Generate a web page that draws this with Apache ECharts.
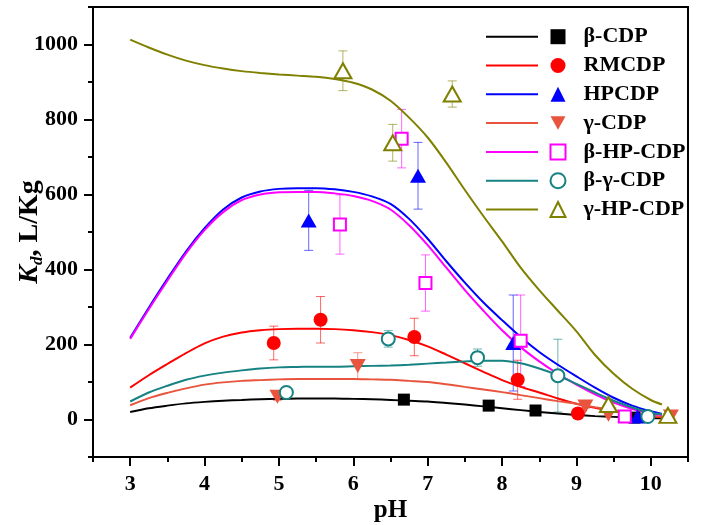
<!DOCTYPE html>
<html>
<head>
<meta charset="utf-8">
<script src="https://cdn.jsdelivr.net/npm/echarts@6/dist/echarts.min.js"></script>
<style>html,body{margin:0;padding:0;background:#fff;}#c{width:706px;height:525px;}</style>
</head>
<body>
<div id="c"></div>
<script>
// ---- data ----
const names = ['β-CDP', 'RMCDP', 'HPCDP', 'γ-CDP', 'β-HP-CDP', 'β-γ-CDP', 'γ-HP-CDP'];
const xTicks = [3, 4, 5, 6, 7, 8, 9, 10];
const xMinorTicks = [2.5, 3.5, 4.5, 5.5, 6.5, 7.5, 8.5, 9.5, 10.5];
const yTicks = [0, 200, 400, 600, 800, 1000];
const yMinorTicks = [-100, 100, 300, 500, 700, 900, 1100];

// fitted curves
const fitPH        = [3, 3.25, 3.5, 3.75, 4, 4.25, 4.5, 4.75, 5, 5.25, 5.5, 5.75, 6, 6.25, 6.5, 6.75, 7, 7.25, 7.5, 7.75, 8, 8.25, 8.5, 8.75, 9, 9.25, 9.5, 9.75, 10, 10.15];
const fitBetaCDP   = [20, 30, 37, 43, 47, 50, 52, 54, 55, 56, 56, 56, 55, 54, 52, 50, 48, 44, 40, 35, 30, 25, 20, 16, 12, 9, 7, 5, 4, 3];
const fitRMCDP     = [85, 118, 148, 177, 203, 221, 232, 238, 241, 242, 242, 241, 238, 233, 225, 212, 195, 173, 150, 127, 105, 87, 72, 56, 42, 31, 22, 14, 8, 6];
const fitHPCDP     = [218, 298, 375, 448, 510, 560, 592, 608, 615, 617, 617, 614, 607, 595, 575, 535, 482, 422, 365, 312, 265, 220, 180, 146, 115, 85, 58, 37, 22, 15];
const fitGammaCDP  = [38, 57, 71, 83, 93, 99, 103, 105, 107, 108, 108, 108, 108, 107, 106, 103, 100, 94, 87, 80, 73, 65, 57, 49, 42, 33, 25, 17, 10, 8];
const fitBetaHP    = [215, 294, 370, 443, 505, 553, 585, 600, 606, 607, 607, 603, 596, 583, 560, 518, 465, 405, 345, 290, 238, 193, 155, 122, 93, 67, 45, 28, 16, 12];
const fitBetaGamma = [48, 72, 90, 106, 117, 125, 131, 136, 139, 140, 141, 141, 142, 143, 144, 146, 149, 152, 155, 157, 157, 150, 136, 118, 95, 72, 50, 32, 18, 14];
const fitGammaHP   = [1013, 992, 973, 957, 945, 936, 929, 924, 920, 917, 914, 908, 898, 880, 850, 805, 752, 685, 612, 542, 475, 405, 345, 290, 235, 172, 122, 82, 52, 40];

// measured points (pH, Kd, error)
const ptBetaCDPx = [6.68, 7.82, 8.45, 9.78];
const ptBetaCDPy = [53, 37, 24, 5];
const ptBetaCDPe = [3, 3, 3, 2];
const ptRMCDPx = [4.93, 5.56, 6.82, 8.21, 9.02];
const ptRMCDPy = [204, 266, 220, 106, 16];
const ptRMCDPe = [45, 62, 50, 52, 5];
const ptHPCDPx = [5.40, 6.87, 8.15, 9.82];
const ptHPCDPy = [531, 650, 204, 8];
const ptHPCDPe = [80, 89, 128, 5];
const ptGammaCDPx = [4.98, 6.06, 9.12, 9.43, 10.27];
const ptGammaCDPy = [61, 143, 35, 13, 8];
const ptGammaCDPe = [10, 35, 5, 5, 5];
const ptBetaHPx = [5.82, 6.65, 6.97, 8.25, 9.65];
const ptBetaHPy = [520, 749, 364, 210, 8];
const ptBetaHPe = [79, 78, 75, 122, 5];
const ptBetaGammax = [5.10, 6.47, 7.67, 8.75, 9.96];
const ptBetaGammay = [72, 215, 165, 117, 8];
const ptBetaGammae = [5, 22, 23, 97, 5];
const ptGammaHPx = [5.86, 6.53, 7.33, 9.43, 10.23];
const ptGammaHPy = [930, 738, 868, 40, 11];
const ptGammaHPe = [53, 49, 35, 15, 5];

// ---- styling ----
const colors = ['#000000', '#ff0000', '#0000ff', '#e8543e', '#ff00ff', '#168282', '#808000'];
const fits = [fitBetaCDP, fitRMCDP, fitHPCDP, fitGammaCDP, fitBetaHP, fitBetaGamma, fitGammaHP];
const pts = [
  [ptBetaCDPx, ptBetaCDPy, ptBetaCDPe],
  [ptRMCDPx, ptRMCDPy, ptRMCDPe],
  [ptHPCDPx, ptHPCDPy, ptHPCDPe],
  [ptGammaCDPx, ptGammaCDPy, ptGammaCDPe],
  [ptBetaHPx, ptBetaHPy, ptBetaHPe],
  [ptBetaGammax, ptBetaGammay, ptBetaGammae],
  [ptGammaHPx, ptGammaHPy, ptGammaHPe]
];
const downTri = 'path://M0,0 L10,0 L5,9 Z';
const symbols = ['rect', 'circle', 'triangle', downTri, 'rect', 'circle', 'triangle'];
const symSizes = [12, 14, [16, 14], [16, 14], 12, 13, [17, 15]];
const hollow = [false, false, false, false, true, true, true];

const FONT = 'Liberation Serif';
const series = [];
// error bars
pts.forEach((p, i) => {
  series.push({
    type: 'custom', name: 'err' + i, z: 2, silent: true,
    data: p[0].map((x, k) => [x, p[1][k], p[2][k]]),
    renderItem: function (params, api) {
      const x = api.value(0), y = api.value(1), e = api.value(2);
      const t = api.coord([x, y + e]), b = api.coord([x, y - e]);
      const st = { stroke: colors[i], lineWidth: 1, opacity: 0.6 };
      const cw = 4.5;
      return { type: 'group', children: [
        { type: 'line', shape: { x1: t[0], y1: t[1], x2: b[0], y2: b[1] }, style: st },
        { type: 'line', shape: { x1: t[0] - cw, y1: t[1], x2: t[0] + cw, y2: t[1] }, style: st },
        { type: 'line', shape: { x1: b[0] - cw, y1: b[1], x2: b[0] + cw, y2: b[1] }, style: st }
      ] };
    }
  });
});
// fitted lines
fits.forEach((f, i) => {
  series.push({
    type: 'line', name: 'fit ' + names[i], z: 3, smooth: 0.3, symbol: 'none',
    data: fitPH.map((x, k) => [x, f[k]]),
    lineStyle: { color: colors[i], width: 2 },
    itemStyle: { color: colors[i] }
  });
});
// markers
pts.forEach((p, i) => {
  series.push({
    type: 'scatter', name: names[i], z: 4,
    symbol: symbols[i], symbolSize: symSizes[i],
    data: p[0].map((x, k) => [x, p[1][k]]),
    itemStyle: hollow[i]
      ? { color: '#ffffff', borderColor: colors[i], borderWidth: 2, opacity: 1 }
      : { color: colors[i], opacity: 1 }
  });
});

const chart = echarts.init(document.getElementById('c'), null, { renderer: 'canvas' });
const legendText = { fontFamily: FONT, fontWeight: 'bold', fontSize: 22, color: '#000', lineHeight: 28.8 };
chart.setOption({
  animation: false,
  backgroundColor: '#fff',
  grid: { left: 93, right: 18, top: 7, bottom: 68, show: true, borderColor: '#000', borderWidth: 2, containLabel: false, outerBoundsMode: 'none' },
  legend: [
    {
      orient: 'vertical', left: 486, top: 22.3, padding: 0, itemGap: 0,
      itemWidth: 52, itemHeight: 2, selectedMode: false,
      data: names.map(n => ({ name: 'fit ' + n, icon: 'rect' })),
      formatter: () => ' ',
      textStyle: legendText
    },
    {
      orient: 'vertical', left: 549.5, top: 22.3, padding: 0, itemGap: 0,
      itemWidth: 15, itemHeight: 15, selectedMode: false,
      data: names,
      textStyle: Object.assign({}, legendText, { padding: [0, 0, 0, 13] })
    }
  ],
  xAxis: [
    {
      type: 'value', min: 2.5, max: 10.5, position: 'bottom',
      name: 'pH', nameLocation: 'middle', nameGap: 41, nameMoveOverlap: false,
      nameTextStyle: { fontFamily: FONT, fontWeight: 'bold', fontSize: 25, color: '#000' },
      axisLine: { show: true, onZero: false, lineStyle: { color: '#000', width: 2 } },
      axisTick: { show: true, length: 9, customValues: xTicks, lineStyle: { color: '#000', width: 2 } },
      axisLabel: { customValues: xTicks, margin: 16, fontFamily: FONT, fontWeight: 'bold', fontSize: 22, color: '#000' },
      splitLine: { show: false }
    },
    {
      type: 'value', min: 2.5, max: 10.5, position: 'bottom', offset: 0,
      axisLine: { show: false, onZero: false },
      axisTick: { show: true, length: 5, customValues: xMinorTicks, lineStyle: { color: '#000', width: 2 } },
      axisLabel: { show: false },
      splitLine: { show: false }
    }
  ],
  yAxis: [
    {
      type: 'value', min: -100, max: 1100, position: 'left',
      name: '{k|K}{d|d}{n|, L/Kg}', nameLocation: 'middle', nameGap: 47, nameRotate: 90, nameMoveOverlap: false,
      nameTextStyle: {
        color: '#000',
        rich: {
          k: { fontFamily: FONT, fontWeight: 'bold', fontStyle: 'italic', fontSize: 28, color: '#000' },
          d: { fontFamily: FONT, fontWeight: 'bold', fontStyle: 'italic', fontSize: 17, color: '#000', padding: [15, 0, 0, 0] },
          n: { fontFamily: FONT, fontWeight: 'bold', fontSize: 28, color: '#000' }
        }
      },
      axisLine: { show: true, onZero: false, lineStyle: { color: '#000', width: 2 } },
      axisTick: { show: true, length: 9, customValues: yTicks, lineStyle: { color: '#000', width: 2 } },
      axisLabel: { customValues: yTicks, formatter: v => String(v), margin: 15, fontFamily: FONT, fontWeight: 'bold', fontSize: 22, color: '#000' },
      splitLine: { show: false }
    },
    {
      type: 'value', min: -100, max: 1100, position: 'left', offset: 0,
      axisLine: { show: false, onZero: false },
      axisTick: { show: true, length: 5, customValues: yMinorTicks, lineStyle: { color: '#000', width: 2 } },
      axisLabel: { show: false },
      splitLine: { show: false }
    }
  ],
  series: series
});
</script>
</body>
</html>
